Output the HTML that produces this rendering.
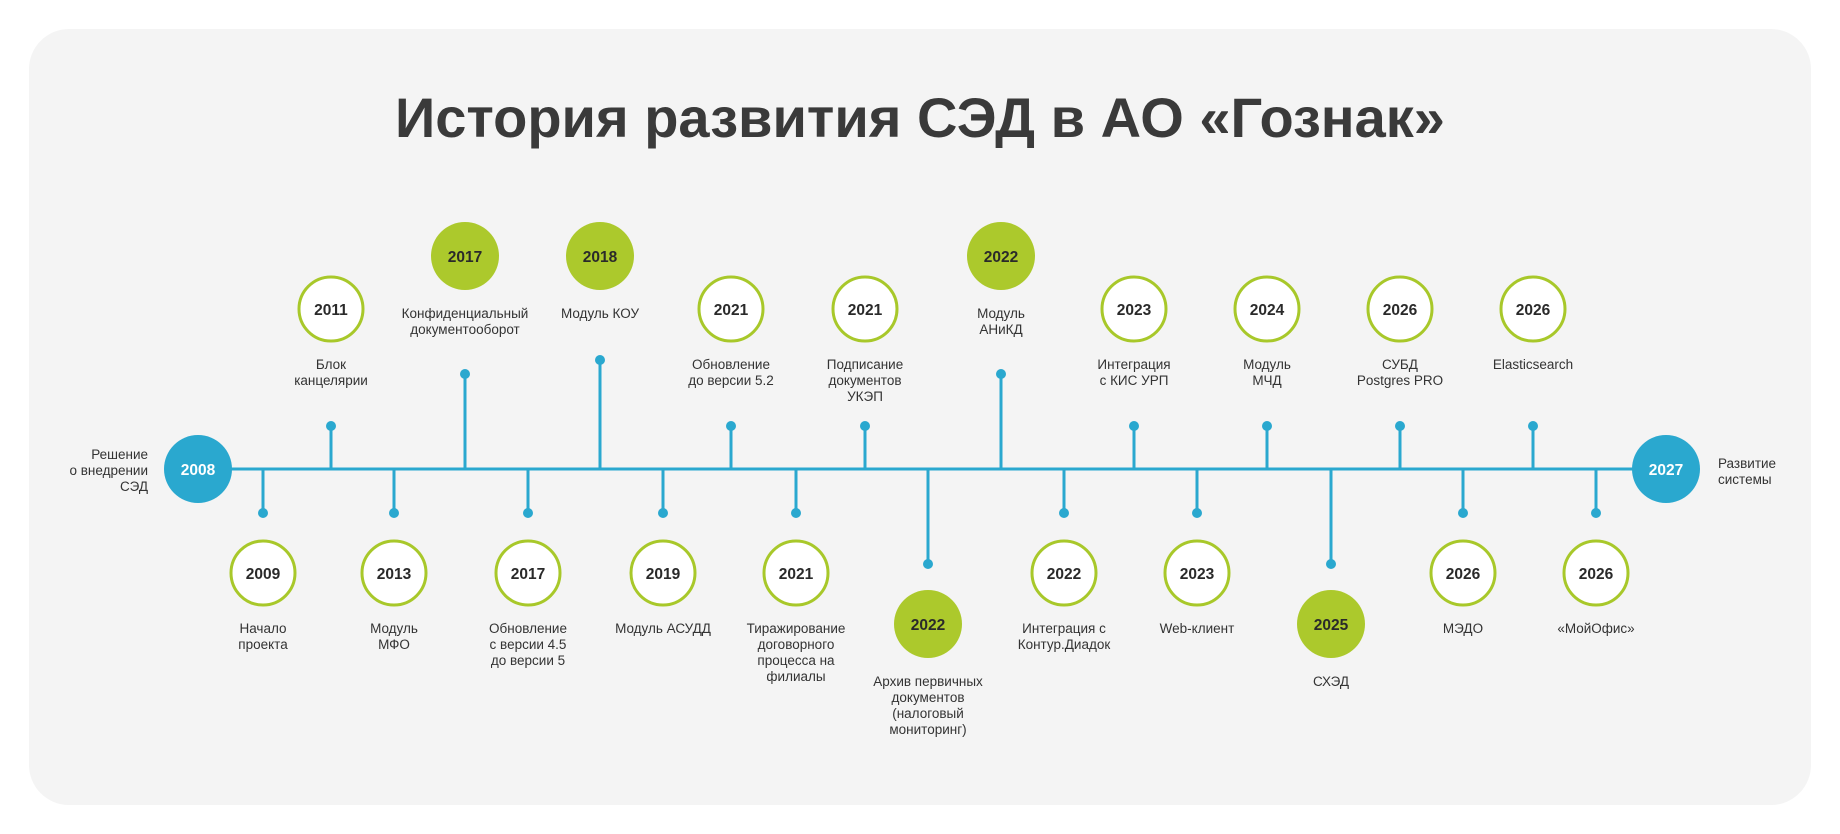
<!DOCTYPE html>
<html><head><meta charset="utf-8"><style>
html,body{margin:0;padding:0;background:#fff;}
svg{display:block;}
text{font-family:"Liberation Sans","DejaVu Sans",sans-serif;}
.t{font-size:13.5px;fill:#333;text-anchor:middle;}
.y{font-size:15.5px;font-weight:bold;fill:#2a2a2a;text-anchor:middle;}
.yw{font-size:15.5px;font-weight:bold;fill:#fff;text-anchor:middle;}
</style></head><body>
<svg width="1840" height="834" viewBox="0 0 1840 834" xmlns="http://www.w3.org/2000/svg">
<rect x="29" y="29" width="1782" height="776" rx="40" fill="#f4f4f4"/>
<text x="920" y="137" text-anchor="middle" style="font-size:56px;font-weight:bold;fill:#3a3a3a">История развития СЭД в АО «Гознак»</text>
<g stroke="#2aa8cf" stroke-width="3" fill="none">
<line x1="200" y1="469" x2="1666" y2="469"/>
<line x1="331" y1="469" x2="331" y2="426"/><line x1="465" y1="469" x2="465" y2="374"/><line x1="600" y1="469" x2="600" y2="360"/>
<line x1="731" y1="469" x2="731" y2="426"/><line x1="865" y1="469" x2="865" y2="426"/><line x1="1001" y1="469" x2="1001" y2="374"/>
<line x1="1134" y1="469" x2="1134" y2="426"/><line x1="1267" y1="469" x2="1267" y2="426"/><line x1="1400" y1="469" x2="1400" y2="426"/><line x1="1533" y1="469" x2="1533" y2="426"/>
<line x1="263" y1="469" x2="263" y2="513"/><line x1="394" y1="469" x2="394" y2="513"/><line x1="528" y1="469" x2="528" y2="513"/><line x1="663" y1="469" x2="663" y2="513"/><line x1="796" y1="469" x2="796" y2="513"/>
<line x1="928" y1="469" x2="928" y2="564"/><line x1="1064" y1="469" x2="1064" y2="513"/><line x1="1197" y1="469" x2="1197" y2="513"/><line x1="1331" y1="469" x2="1331" y2="564"/><line x1="1463" y1="469" x2="1463" y2="513"/><line x1="1596" y1="469" x2="1596" y2="513"/>
</g>
<g fill="#2aa8cf">
<circle cx="331" cy="426" r="5"/><circle cx="465" cy="374" r="5"/><circle cx="600" cy="360" r="5"/><circle cx="731" cy="426" r="5"/><circle cx="865" cy="426" r="5"/><circle cx="1001" cy="374" r="5"/><circle cx="1134" cy="426" r="5"/><circle cx="1267" cy="426" r="5"/><circle cx="1400" cy="426" r="5"/><circle cx="1533" cy="426" r="5"/>
<circle cx="263" cy="513" r="5"/><circle cx="394" cy="513" r="5"/><circle cx="528" cy="513" r="5"/><circle cx="663" cy="513" r="5"/><circle cx="796" cy="513" r="5"/><circle cx="928" cy="564" r="5"/><circle cx="1064" cy="513" r="5"/><circle cx="1197" cy="513" r="5"/><circle cx="1331" cy="564" r="5"/><circle cx="1463" cy="513" r="5"/><circle cx="1596" cy="513" r="5"/>
<circle cx="198" cy="469" r="34"/><circle cx="1666" cy="469" r="34"/>
</g>
<g fill="#fff" stroke="#a8c82a" stroke-width="3">
<circle cx="331" cy="309" r="32"/><circle cx="731" cy="309" r="32"/><circle cx="865" cy="309" r="32"/><circle cx="1134" cy="309" r="32"/><circle cx="1267" cy="309" r="32"/><circle cx="1400" cy="309" r="32"/><circle cx="1533" cy="309" r="32"/>
<circle cx="263" cy="573" r="32"/><circle cx="394" cy="573" r="32"/><circle cx="528" cy="573" r="32"/><circle cx="663" cy="573" r="32"/><circle cx="796" cy="573" r="32"/><circle cx="1064" cy="573" r="32"/><circle cx="1197" cy="573" r="32"/><circle cx="1463" cy="573" r="32"/><circle cx="1596" cy="573" r="32"/>
</g>
<g fill="#acc92c">
<circle cx="465" cy="256" r="34"/><circle cx="600" cy="256" r="34"/><circle cx="1001" cy="256" r="34"/><circle cx="928" cy="624" r="34"/><circle cx="1331" cy="624" r="34"/>
</g>
<text class="yw" x="198" y="475">2008</text><text class="yw" x="1666" y="475">2027</text>
<text class="y" x="331" y="315">2011</text><text class="y" x="465" y="262">2017</text><text class="y" x="600" y="262">2018</text><text class="y" x="731" y="315">2021</text><text class="y" x="865" y="315">2021</text><text class="y" x="1001" y="262">2022</text><text class="y" x="1134" y="315">2023</text><text class="y" x="1267" y="315">2024</text><text class="y" x="1400" y="315">2026</text><text class="y" x="1533" y="315">2026</text>
<text class="y" x="263" y="579">2009</text><text class="y" x="394" y="579">2013</text><text class="y" x="528" y="579">2017</text><text class="y" x="663" y="579">2019</text><text class="y" x="796" y="579">2021</text><text class="y" x="928" y="630">2022</text><text class="y" x="1064" y="579">2022</text><text class="y" x="1197" y="579">2023</text><text class="y" x="1331" y="630">2025</text><text class="y" x="1463" y="579">2026</text><text class="y" x="1596" y="579">2026</text>
<text class="t" x="148" y="459" text-anchor="end" style="text-anchor:end">Решение</text>
<text class="t" x="148" y="475" style="text-anchor:end">о внедрении</text>
<text class="t" x="148" y="491" style="text-anchor:end">СЭД</text>
<text class="t" x="1718" y="468" style="text-anchor:start">Развитие</text>
<text class="t" x="1718" y="484" style="text-anchor:start">системы</text>
<text class="t" x="331" y="369">Блок</text><text class="t" x="331" y="385">канцелярии</text>
<text class="t" x="465" y="318">Конфиденциальный</text><text class="t" x="465" y="334">документооборот</text>
<text class="t" x="600" y="318">Модуль КОУ</text>
<text class="t" x="731" y="369">Обновление</text><text class="t" x="731" y="385">до версии 5.2</text>
<text class="t" x="865" y="369">Подписание</text><text class="t" x="865" y="385">документов</text><text class="t" x="865" y="401">УКЭП</text>
<text class="t" x="1001" y="318">Модуль</text><text class="t" x="1001" y="334">АНиКД</text>
<text class="t" x="1134" y="369">Интеграция</text><text class="t" x="1134" y="385">с КИС УРП</text>
<text class="t" x="1267" y="369">Модуль</text><text class="t" x="1267" y="385">МЧД</text>
<text class="t" x="1400" y="369">СУБД</text><text class="t" x="1400" y="385">Postgres PRO</text>
<text class="t" x="1533" y="369">Elasticsearch</text>
<text class="t" x="263" y="633">Начало</text><text class="t" x="263" y="649">проекта</text>
<text class="t" x="394" y="633">Модуль</text><text class="t" x="394" y="649">МФО</text>
<text class="t" x="528" y="633">Обновление</text><text class="t" x="528" y="649">с версии 4.5</text><text class="t" x="528" y="665">до версии 5</text>
<text class="t" x="663" y="633">Модуль АСУДД</text>
<text class="t" x="796" y="633">Тиражирование</text><text class="t" x="796" y="649">договорного</text><text class="t" x="796" y="665">процесса на</text><text class="t" x="796" y="681">филиалы</text>
<text class="t" x="928" y="686">Архив первичных</text><text class="t" x="928" y="702">документов</text><text class="t" x="928" y="718">(налоговый</text><text class="t" x="928" y="734">мониторинг)</text>
<text class="t" x="1064" y="633">Интеграция с</text><text class="t" x="1064" y="649">Контур.Диадок</text>
<text class="t" x="1197" y="633">Web-клиент</text>
<text class="t" x="1331" y="686">СХЭД</text>
<text class="t" x="1463" y="633">МЭДО</text>
<text class="t" x="1596" y="633">«МойОфис»</text>
</svg>
</body></html>
